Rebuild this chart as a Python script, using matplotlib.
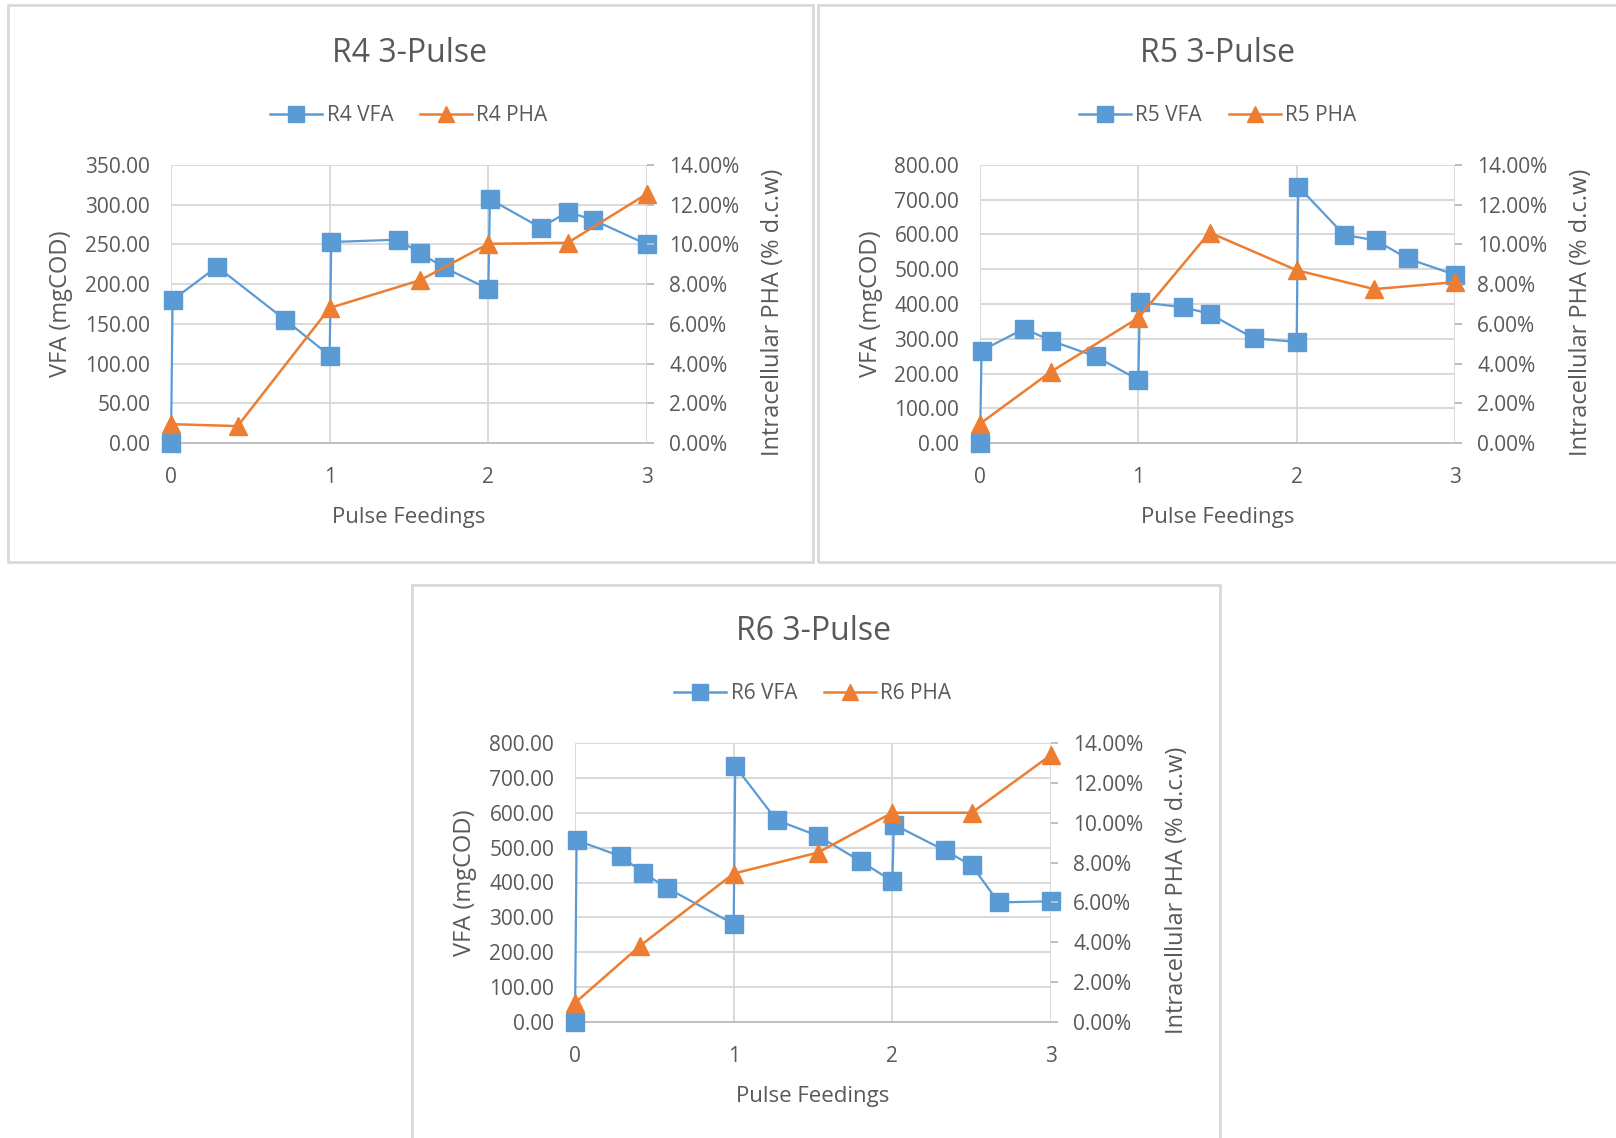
import matplotlib.pyplot as plt
from matplotlib.patches import Rectangle
from matplotlib.lines import Line2D
from matplotlib.ticker import FuncFormatter, PercentFormatter

plt.rcParams['font.family'] = ['Open Sans', 'DejaVu Sans']

# R4 reactor
r4_vfa_x = [0, 0.01, 0.29, 0.72, 1.0, 1.01, 1.43, 1.57, 1.72, 2.0, 2.01, 2.33, 2.5, 2.66, 3.0]
r4_vfa = [0, 180, 222, 155, 110, 253, 256, 239, 221, 194, 307, 271, 291, 281, 250]
r4_pha_x = [0, 0.42, 1.0, 1.57, 2.0, 2.5, 3.0]
r4_pha = [0.0095, 0.0085, 0.0680, 0.0820, 0.1003, 0.1008, 0.1255]

# R5 reactor
r5_vfa_x = [0, 0.01, 0.28, 0.45, 0.73, 1.0, 1.01, 1.28, 1.45, 1.73, 2.0, 2.01, 2.3, 2.5, 2.7, 3.0]
r5_vfa = [0, 266, 329, 294, 249, 182, 405, 391, 372, 301, 291, 738, 599, 583, 531, 484]
r5_pha_x = [0, 0.45, 1.0, 1.45, 2.0, 2.49, 3.0]
r5_pha = [0.0097, 0.0360, 0.0630, 0.1060, 0.0870, 0.0775, 0.0810]

# R6 reactor
r6_vfa_x = [0, 0.01, 0.29, 0.43, 0.58, 1.0, 1.01, 1.27, 1.53, 1.80, 2.0, 2.01, 2.33, 2.5, 2.67, 3.0]
r6_vfa = [0, 521, 475, 428, 384, 281, 733, 579, 534, 461, 404, 566, 492, 449, 343, 346]
r6_pha_x = [0, 0.41, 1.0, 1.53, 2.0, 2.5, 3.0]
r6_pha = [0.0096, 0.0382, 0.0745, 0.0850, 0.1050, 0.1050, 0.1340]

W, H = 1616, 1138
BLUE = '#5B9BD5'
ORANGE = '#ED7D31'
GRID = '#D9D9D9'
TEXT = '#595959'


def box(x0, y0, x1, y1):
    # pixel box (top-left origin) -> figure fractions
    return [x0 / W, 1 - y1 / H, (x1 - x0) / W, (y1 - y0) / H]


def panel(fig, rect, name, vx, vy, px, py, vmax, vstep):
    ax = fig.add_axes(rect)
    ax2 = ax.twinx()

    ax.plot(vx, vy, color=BLUE, lw=1.6, marker='s', ms=12.5, clip_on=False, zorder=3)
    ax2.plot(px, py, color=ORANGE, lw=1.8, marker='^', ms=12.5, clip_on=False, zorder=3)

    ax.set_xlim(0, 3)
    ax.set_xticks([0, 1, 2, 3])
    ax.set_ylim(0, vmax)
    ax.set_yticks([i * vstep for i in range(int(vmax / vstep) + 1)])
    ax2.set_ylim(0, 0.14)
    ax2.set_yticks([i * 0.02 for i in range(8)])

    ax.yaxis.set_major_formatter(FuncFormatter(lambda v, p: f'{v:.2f}'))
    ax2.yaxis.set_major_formatter(PercentFormatter(1, decimals=2))

    ax.grid(True, color=GRID, lw=1.4)
    ax.set_axisbelow(True)
    for s in ['top', 'left', 'right']:
        ax.spines[s].set_visible(False)
    ax.spines['bottom'].set_color('#BFBFBF')
    ax.spines['bottom'].set_linewidth(1.4)
    for s in ['top', 'left', 'bottom', 'right']:
        ax2.spines[s].set_visible(False)

    ax.tick_params(axis='y', length=0, pad=15, labelsize=15, labelcolor=TEXT)
    ax.tick_params(axis='x', length=0, pad=17.5, labelsize=15, labelcolor=TEXT)
    ax2.tick_params(axis='y', direction='out', length=5, width=1.4, color='#BFBFBF',
                    pad=11, labelsize=15, labelcolor=TEXT)

    ax.set_xlabel('Pulse Feedings', fontsize=16, color=TEXT)
    ax.set_ylabel('VFA (mgCOD)', fontsize=17, color=TEXT)
    ax2.set_ylabel('Intracellular PHA (% d.c.w)', fontsize=17, color=TEXT)
    ax.xaxis.set_label_coords(0.5, -0.23)
    ax.yaxis.set_label_coords(-0.205, 0.5)
    ax2.yaxis.set_label_coords(1.239, 0.47)

    ax.text(0.5, 1.401, f'{name} 3-Pulse', transform=ax.transAxes, fontsize=23,
            color=TEXT, ha='center', va='center')

    handles = [
        Line2D([], [], color=BLUE, lw=1.8, marker='s', ms=11),
        Line2D([], [], color=ORANGE, lw=1.8, marker='^', ms=11),
    ]
    ax.legend(handles, [f'{name} VFA', f'{name} PHA'], loc='center',
              bbox_to_anchor=(0.5, 1.178), ncol=2, frameon=False, fontsize=15,
              labelcolor=TEXT, handlelength=2.5, handletextpad=0.2, columnspacing=1.3)
    return ax


fig = plt.figure(figsize=(W / 100, H / 100), dpi=100)

# chart frames
for x0, y0, x1, y1 in [(8, 5, 813, 562), (818, 5, 1620, 562), (412, 585, 1220, 1142)]:
    fig.patches.append(Rectangle((x0 / W, 1 - y1 / H), (x1 - x0) / W, (y1 - y0) / H,
                                 transform=fig.transFigure, fill=False, ec=GRID, lw=2))

panel(fig, box(171, 165, 647, 443), 'R4', r4_vfa_x, r4_vfa, r4_pha_x, r4_pha, 350, 50)
panel(fig, box(980, 165, 1455, 443), 'R5', r5_vfa_x, r5_vfa, r5_pha_x, r5_pha, 800, 100)
panel(fig, box(575, 743, 1051, 1022), 'R6', r6_vfa_x, r6_vfa, r6_pha_x, r6_pha, 800, 100)

fig.savefig('out.png', dpi=100)
plt.close(fig)
